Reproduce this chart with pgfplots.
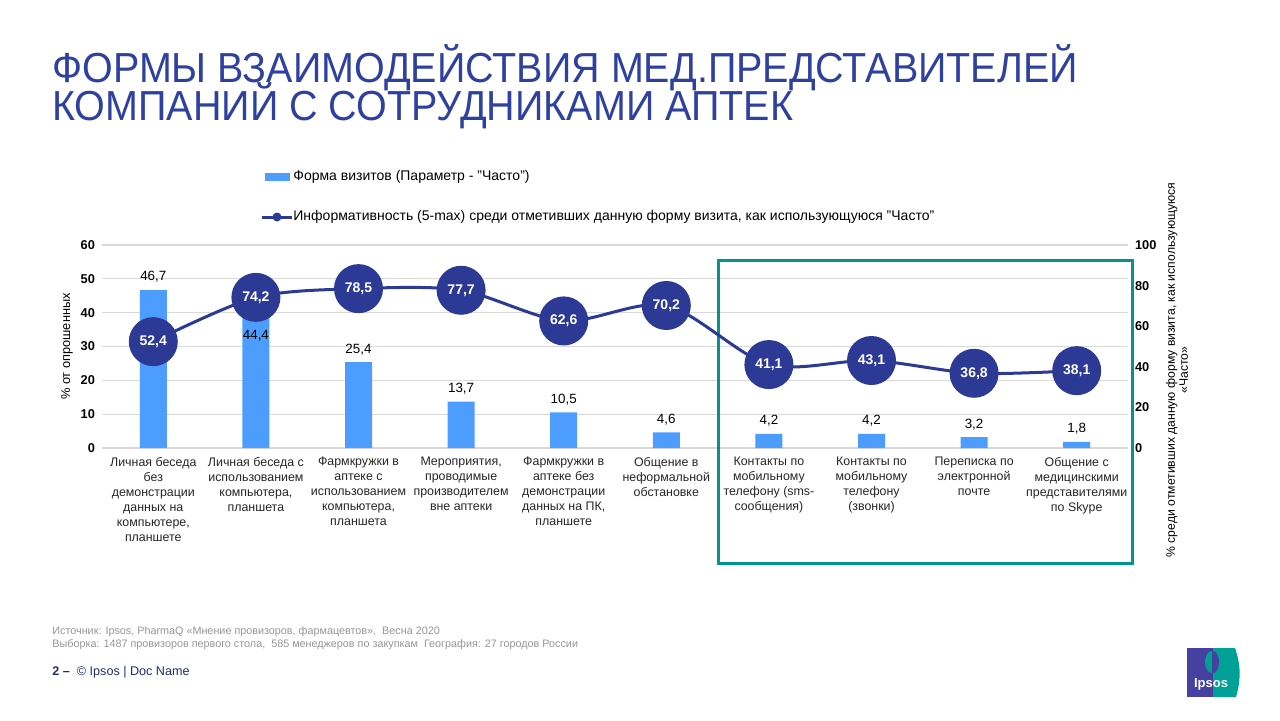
\documentclass[border=0pt]{standalone}
\usepackage{fontspec}
\setmainfont{Liberation Sans}
\usepackage{graphicx}
\usepackage{pgfplots}
\usepackage{pgfplotstable}
\pgfplotsset{compat=1.18}

\definecolor{titleblue}{RGB}{47,65,160}
\definecolor{barblue}{RGB}{77,157,255}
\definecolor{linblue}{RGB}{44,58,150}
\definecolor{boxteal}{RGB}{0,150,143}
\definecolor{gridgray}{RGB}{217,217,217}
\definecolor{footgray}{RGB}{150,150,150}
\definecolor{navy}{RGB}{35,45,110}
\definecolor{ipsosblue}{RGB}{70,65,160}
\definecolor{ipsosteal}{RGB}{0,160,150}

% bar values (left axis) and label heights
\pgfplotstableread{
x  val   ly
0  46.7  50.5
1  44.4  33.1
2  25.4  29.2
3  13.7  17.5
4  10.5  14.3
5  4.6   8.4
6  4.2   8.0
7  4.2   8.0
8  3.2   7.0
9  1.8   5.6
}\bars

% informativeness (right axis)
\pgfplotstableread{
x  val
0  52.4
1  74.2
2  78.5
3  77.7
4  62.6
5  70.2
6  41.1
7  43.1
8  36.8
9  38.1
}\inform

\newcommand{\pct}[1]{\pgfmathprintnumber[use comma,fixed,fixed zerofill,precision=1]{#1}}

\begin{document}
\begin{tikzpicture}
\useasboundingbox (0,0) rectangle (640pt,360pt);
\fill[white] (0,0) rectangle (640pt,360pt);

\begin{axis}[
  at={(51pt,136pt)}, anchor=south west,
  scale only axis, width=513pt, height=101.5pt,
  xmin=-0.5, xmax=9.5, ymin=0, ymax=60,
  ytick={0,10,...,60},
  xtick={0,...,9},
  xticklabels={
    {Личная беседа\\без\\демонстрации\\данных на\\компьютере,\\планшете},
    {Личная беседа с\\использованием\\компьютера,\\планшета},
    {Фармкружки в\\аптеке с\\использованием\\компьютера,\\планшета},
    {Мероприятия,\\проводимые\\производителем\\вне аптеки},
    {Фармкружки в\\аптеке без\\демонстрации\\данных на ПК,\\планшете},
    {Общение в\\неформальной\\обстановке},
    {Контакты по\\мобильному\\телефону (sms-\\сообщения)},
    {Контакты по\\мобильному\\телефону\\(звонки)},
    {Переписка по\\электронной\\почте},
    {Общение с\\медицинскими\\представителями\\по Skype}},
  x tick label style={align=center, anchor=north, yshift=-1pt,
    font=\fontsize{6.2}{7.5}\selectfont, text=black!85},
  yticklabel style={font=\fontsize{6.4}{7}\selectfont\bfseries},
  /pgf/number format/assume math mode=true,
  axis line style={draw=none},
  tick style={draw=none},
  ymajorgrids, major grid style={gridgray, line width=0.6pt},
  ylabel={\% от опрошенных},
  ylabel style={at={(axis description cs:0,0.5)}, anchor=center,
    yshift=17.5pt, font=\fontsize{6.4}{7}\selectfont},
]
  \addplot[ybar, bar width=13.5pt, fill=barblue, draw=none]
    table[x=x, y=val] {\bars};
  \addplot[draw=none, mark=none, point meta=explicit,
    nodes near coords={\pct{\pgfplotspointmeta}},
    every node near coord/.append style={anchor=center,
      font=\fontsize{6.7}{7}\selectfont, text=black}]
    table[x=x, y=ly, meta=val] {\bars};
\end{axis}

% highlight frame
\begin{scope}[x=0.5pt, y=-0.5pt, shift={(0,360pt)}]
  \draw[boxteal, line width=1.5pt] (718,260) rectangle (1132,563);
\end{scope}

\begin{axis}[
  at={(51pt,136pt)}, anchor=south west,
  scale only axis, width=513pt, height=101.5pt,
  xmin=-0.5, xmax=9.5, ymin=0, ymax=100,
  ytick={0,20,...,100},
  axis y line*=right, hide x axis,
  axis line style={draw=none},
  tick style={draw=none},
  yticklabel style={font=\fontsize{6.4}{7}\selectfont\bfseries, anchor=west},
  /pgf/number format/assume math mode=true,
]
  \addplot[linblue, line width=1.5pt, smooth, mark=*, mark size=11.5pt,
    mark options={fill=linblue, draw=linblue},
    point meta=explicit,
    nodes near coords={\pct{\pgfplotspointmeta}},
    every node near coord/.append style={anchor=center,
      font=\fontsize{7}{8}\selectfont\bfseries, text=white}]
    table[x=x, y=val, meta=val] {\inform};
\end{axis}

\begin{scope}[x=0.5pt, y=-0.5pt, shift={(0,360pt)}]
  % title
  \node[anchor=base west, inner sep=0, text=titleblue,
    font=\fontsize{21}{22}\selectfont] at (52,82)
    {\scalebox{0.94}[1]{ФОРМЫ ВЗАИМОДЕЙСТВИЯ МЕД.ПРЕДСТАВИТЕЛЕЙ}};
  \node[anchor=base west, inner sep=0, text=titleblue,
    font=\fontsize{21}{22}\selectfont] at (52,120)
    {\scalebox{0.94}[1]{КОМПАНИЙ С СОТРУДНИКАМИ АПТЕК}};

  % legend
  \fill[barblue] (265,173) rectangle (290,181);
  \node[anchor=west, inner sep=1pt, font=\fontsize{7}{8}\selectfont]
    at (291,177) {Форма визитов (Параметр - "Часто")};
  \draw[linblue, line width=1.5pt] (262,217) -- (292,217);
  \fill[linblue] (277,217) circle (4.5);
  \node[anchor=west, inner sep=1pt, font=\fontsize{7}{8}\selectfont]
    at (291,217) {Информативность (5-max) среди отметивших данную форму визита, как использующуюся "Часто"};

  % right axis title
  \node[rotate=90, align=center, font=\fontsize{6.1}{6.5}\selectfont]
    at (1177,370) {\% среди отметивших данную форму визита, как использующуюся\\«Часто»};

  % footer
  \node[anchor=west, inner sep=0, text=footgray, font=\fontsize{5.4}{6}\selectfont]
    at (52,632) {Источник: Ipsos, PharmaQ «Мнение провизоров, фармацевтов»,\ \ Весна 2020};
  \node[anchor=west, inner sep=0, text=footgray, font=\fontsize{5.4}{6}\selectfont]
    at (52,645) {Выборка: 1487 провизоров первого стола,\ \ 585 менеджеров по закупкам\ \ География: 27 городов России};
  \node[anchor=west, inner sep=0, text=navy, font=\fontsize{6.3}{7}\selectfont]
    at (52,672) {\textbf{2 –}\ \ © Ipsos | Doc Name};

  % logo
  \fill[ipsosblue] (1187,648) rectangle (1213,697);
  \fill[ipsosteal] (1213,648) -- (1235,648) .. controls (1241,665) and (1241,680) .. (1236,697) -- (1213,697) -- cycle;
  \begin{scope}
    \clip (1187,648) rectangle (1212,697);
    \fill[ipsosteal] (1212,662) ellipse (7 and 11);
  \end{scope}
  \begin{scope}
    \clip (1212,648) rectangle (1240,697);
    \fill[ipsosblue] (1213,662) ellipse (6 and 11);
  \end{scope}
  \node[text=white, font=\fontsize{6.5}{8}\selectfont\bfseries, inner sep=0]
    at (1211,684) {Ipsos};
\end{scope}
\end{tikzpicture}
\end{document}
